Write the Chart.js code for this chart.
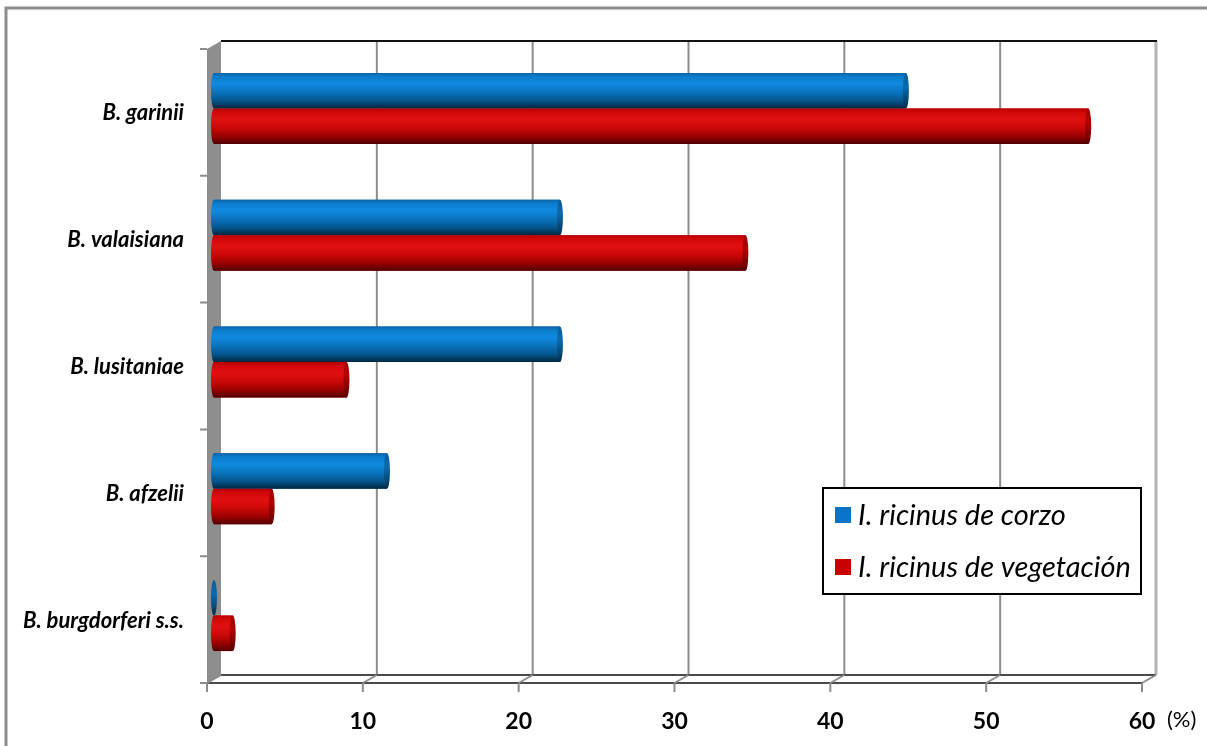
<!DOCTYPE html>
<html>
<head>
<meta charset="utf-8">
<script src="https://cdn.jsdelivr.net/npm/chart.js@4.4.0/dist/chart.umd.min.js"></script>
<style>
  html, body { margin: 0; padding: 0; background: #fff; }
  #wrap { width: 1207px; height: 746px; }
</style>
</head>
<body>
<div id="wrap"><canvas id="grafico" width="1207" height="746"></canvas></div>
<script>
// Genoespecies de Borrelia y porcentaje en cada tipo de garrapata
const especies = ['B. garinii', 'B. valaisiana', 'B. lusitaniae', 'B. afzelii', 'B. burgdorferi s.s.'];
const corzo = [44.4, 22.2, 22.2, 11.1, 0];
const vegetacion = [56.1, 34.1, 8.5, 3.7, 1.2];
const ticksX = [0, 10, 20, 30, 40, 50, 60];
const series = ['I. ricinus de corzo', 'I. ricinus de vegetación'];

// media profundidad del efecto 3D (px)
const DX = 7, DY = 4;
const RX = 3;

const rampas = {
  azul: {
    cuerpo: [[0, '#0b62a4'], [0.1, '#0c7ccb'], [0.3, '#0f8ae0'], [0.55, '#0a73bd'], [0.8, '#045389'], [1, '#01263f']],
    tapa: [[0, '#0a5c98'], [0.4, '#0a6aab'], [1, '#023050']]
  },
  rojo: {
    cuerpo: [[0, '#b80000'], [0.1, '#d00808'], [0.3, '#e21010'], [0.55, '#cc0808'], [0.8, '#960000'], [1, '#4e0000']],
    tapa: [[0, '#a00000'], [0.4, '#b00404'], [1, '#5a0000']]
  }
};

function degradado(ctx, top, bottom, stops) {
  const g = ctx.createLinearGradient(0, top, 0, bottom);
  stops.forEach(([p, c]) => g.addColorStop(p, c));
  return g;
}

const marco3d = {
  id: 'marco3d',
  beforeDraw(chart) {
    const ctx = chart.ctx;
    ctx.save();
    ctx.fillStyle = '#fff';
    ctx.fillRect(0, 0, chart.width, chart.height);
    // marco exterior
    ctx.strokeStyle = '#8c8c8c';
    ctx.lineWidth = 3;
    ctx.beginPath();
    ctx.moveTo(6, chart.height);
    ctx.lineTo(6, 8);
    ctx.lineTo(chart.width, 8);
    ctx.stroke();
    ctx.restore();
  },
  beforeDatasetsDraw(chart) {
    const { ctx, chartArea: a, scales: { x } } = chart;
    const x0 = x.getPixelForValue(ticksX[0]);
    const xN = x.getPixelForValue(ticksX[ticksX.length - 1]);
    const fondoTop = a.top - DY, fondoBot = a.bottom - DY;
    const frenteTop = a.top + DY, frenteBot = a.bottom + DY;
    ctx.save();

    // lineas de division en la pared del fondo
    ticksX.slice(1).forEach((v, i, arr) => {
      const px = x.getPixelForValue(v) + DX;
      const ultimo = i === arr.length - 1;
      ctx.strokeStyle = ultimo ? '#b4b4b4' : '#8c8c8c';
      ctx.lineWidth = ultimo ? 3 : 2;
      ctx.beginPath();
      ctx.moveTo(px, fondoTop);
      ctx.lineTo(px, fondoBot);
      ctx.stroke();
    });
    // borde superior
    ctx.strokeStyle = '#111';
    ctx.lineWidth = 2;
    ctx.beginPath();
    ctx.moveTo(x0 + DX, fondoTop);
    ctx.lineTo(xN + DX + 1, fondoTop);
    ctx.stroke();

    // pared izquierda
    ctx.fillStyle = '#8e8e8e';
    ctx.beginPath();
    ctx.moveTo(x0 - DX, frenteTop);
    ctx.lineTo(x0 + DX, fondoTop);
    ctx.lineTo(x0 + DX, fondoBot);
    ctx.lineTo(x0 - DX, frenteBot);
    ctx.closePath();
    ctx.fill();

    // suelo
    ctx.strokeStyle = '#4a4a4a';
    ctx.lineWidth = 2;
    ctx.beginPath();
    ctx.moveTo(x0 + DX, fondoBot);
    ctx.lineTo(xN + DX, fondoBot);
    ctx.moveTo(x0 - DX, frenteBot);
    ctx.lineTo(xN - DX, frenteBot);
    ctx.stroke();
    ctx.strokeStyle = '#8c8c8c';
    ctx.lineWidth = 2;
    ctx.beginPath();
    ticksX.forEach(v => {
      const px = x.getPixelForValue(v);
      ctx.moveTo(px - DX, frenteBot);
      ctx.lineTo(px + DX, fondoBot);
      ctx.moveTo(px - DX, frenteBot);
      ctx.lineTo(px - DX, frenteBot + 9);
    });
    // marcas de categoria
    const banda = (a.bottom - a.top) / especies.length;
    for (let k = 0; k <= especies.length; k++) {
      const yy = a.top + k * banda + DY;
      ctx.moveTo(x0 - DX - 7, yy);
      ctx.lineTo(x0 - DX, yy);
    }
    ctx.stroke();
    ctx.restore();
  },
  afterDatasetsDraw(chart) {
    const ctx = chart.ctx;
    ctx.save();
    chart.data.datasets.forEach((ds, di) => {
      const rampa = rampas[ds.rampa];
      chart.getDatasetMeta(di).data.forEach(bar => {
        const { x: xe, y: yc, base, height } = bar.getProps(['x', 'y', 'base', 'height'], true);
        const t = yc - height / 2, b = yc + height / 2;
        if (xe > base) {
          ctx.fillStyle = degradado(ctx, t, b, rampa.cuerpo);
          ctx.beginPath();
          ctx.ellipse(base, yc, RX, height / 2, 0, Math.PI / 2, Math.PI * 1.5);
          ctx.lineTo(xe, t);
          ctx.lineTo(xe, b);
          ctx.closePath();
          ctx.fill();
        }
        ctx.fillStyle = degradado(ctx, t, b, rampa.tapa);
        ctx.beginPath();
        ctx.ellipse(xe, yc, RX, height / 2, 0, 0, Math.PI * 2);
        ctx.fill();
      });
    });
    ctx.restore();
  },
  afterDraw(chart) {
    const { ctx, scales: { x } } = chart;
    ctx.save();
    // unidad del eje
    ctx.fillStyle = '#000';
    ctx.font = '22px Lato';
    ctx.textBaseline = 'middle';
    ctx.textAlign = 'left';
    ctx.fillText('(%)', x.getPixelForValue(60) - DX + 25, 720);

    // leyenda
    const lx = 823, ly = 488, lw = 318, lh = 106;
    ctx.fillStyle = '#fff';
    ctx.fillRect(lx, ly, lw, lh);
    ctx.strokeStyle = '#000';
    ctx.lineWidth = 2;
    ctx.strokeRect(lx, ly, lw, lh);
    ctx.font = 'italic 29px Lato';
    chart.data.datasets.forEach((ds, i) => {
      const cy = ly + 27 + i * 52;
      ctx.fillStyle = ds.backgroundColor;
      ctx.fillRect(lx + 12, cy - 8, 16, 16);
      ctx.fillStyle = '#000';
      ctx.fillText(ds.label, lx + 35, cy + 1);
    });
    ctx.restore();
  }
};

new Chart(document.getElementById('grafico'), {
  type: 'bar',
  data: {
    labels: especies,
    datasets: [
      { label: series[0], data: corzo, backgroundColor: '#0a74c8', rampa: 'azul' },
      { label: series[1], data: vegetacion, backgroundColor: '#c80000', rampa: 'rojo' }
    ]
  },
  options: {
    indexAxis: 'y',
    responsive: false,
    animation: false,
    categoryPercentage: 0.56,
    barPercentage: 1,
    layout: { padding: { top: 45, right: 58, left: 0, bottom: 0 } },
    plugins: {
      legend: { display: false },
      tooltip: { enabled: false }
    },
    scales: {
      x: {
        min: 0,
        max: 60,
        ticks: {
          stepSize: 10,
          labelOffset: -DX,
          padding: 29,
          color: '#000',
          font: { family: 'Lato', size: 23, weight: 'bold' }
        },
        grid: { display: false, drawTicks: false },
        border: { display: false },
        afterFit: s => { s.height = 67; }
      },
      y: {
        ticks: {
          padding: 30,
          labelOffset: 5,
          color: '#000',
          font: { family: 'Lato', size: 22, weight: 'bold', style: 'italic' }
        },
        grid: { display: false, drawTicks: false },
        border: { display: false },
        afterFit: s => { s.width = 214; }
      }
    }
  },
  plugins: [marco3d]
});
</script>
</body>
</html>
